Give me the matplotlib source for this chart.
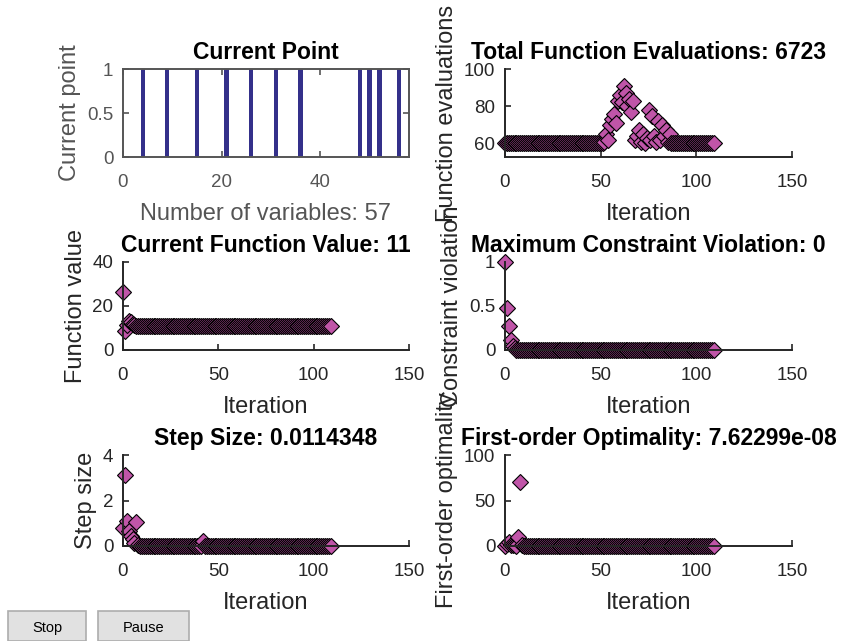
import numpy as np
import matplotlib
matplotlib.use("Agg")
from matplotlib import pyplot as plt
from matplotlib.patches import Rectangle

plt.rcParams['font.family'] = ['Liberation Sans', 'DejaVu Sans']

# current point: 57 variables, the ones at 1
n_vars = 57
on_vars = [4, 9, 15, 21, 26, 31, 36, 48, 50, 52, 56]

iters = np.arange(110)

func_count = [60, 60, 60, 60, 60, 60, 60, 60, 60, 60,
              60, 60, 60, 60, 60, 60, 60, 60, 60, 60,
              60, 60, 60, 60, 60, 60, 60, 60, 60, 60,
              60, 60, 60, 60, 60, 60, 60, 60, 60, 60,
              60, 60, 60, 60, 60, 60, 60, 60, 60, 60,
              60, 60, 61, 65, 62, 70, 73, 76, 71, 83,
              86, 82, 91, 87, 80, 84, 77, 83, 62, 64,
              67, 61, 65, 60, 63, 78, 62, 75, 64, 61,
              72, 62, 70, 64, 67, 61, 65, 60, 60, 60,
              60, 60, 60, 60, 60, 60, 60, 60, 60, 60,
              60, 60, 60, 60, 60, 60, 60, 60, 60, 60]

func_value = [26.4, 8.6, 11.5, 13.2, 12.8, 12.0, 11.4, 11.1, 10.9, 10.9,
              10.9, 10.9, 10.9, 10.9, 10.9, 10.9, 10.9, 10.9, 10.9, 10.9,
              10.9, 10.9, 10.9, 10.9, 10.9, 10.9, 10.9, 10.9, 10.9, 10.9,
              10.9, 10.9, 10.9, 10.9, 10.9, 10.9, 10.9, 10.9, 10.9, 10.9,
              10.9, 10.9, 10.9, 10.9, 10.9, 10.9, 10.9, 10.9, 10.9, 10.9,
              10.9, 10.9, 10.9, 10.9, 10.9, 10.9, 10.9, 10.9, 10.9, 10.9,
              10.9, 10.9, 10.9, 10.9, 10.9, 10.9, 10.9, 10.9, 10.9, 10.9,
              10.9, 10.9, 10.9, 10.9, 10.9, 10.9, 10.9, 10.9, 10.9, 10.9,
              10.9, 10.9, 10.9, 10.9, 10.9, 10.9, 10.9, 10.9, 10.9, 10.9,
              10.9, 10.9, 10.9, 10.9, 10.9, 10.9, 10.9, 10.9, 10.9, 10.9,
              10.9, 10.9, 10.9, 10.9, 10.9, 10.9, 10.9, 10.9, 10.9, 11.0]

constr_viol = [1.0, 0.48, 0.27, 0.11, 0.05, 0.02, 0, 0, 0, 0,
               0, 0, 0, 0, 0, 0, 0, 0, 0, 0,
               0, 0, 0, 0, 0, 0, 0, 0, 0, 0,
               0, 0, 0, 0, 0, 0, 0, 0, 0, 0,
               0, 0, 0, 0, 0, 0, 0, 0, 0, 0,
               0, 0, 0, 0, 0, 0, 0, 0, 0, 0,
               0, 0, 0, 0, 0, 0, 0, 0, 0, 0,
               0, 0, 0, 0, 0, 0, 0, 0, 0, 0,
               0, 0, 0, 0, 0, 0, 0, 0, 0, 0,
               0, 0, 0, 0, 0, 0, 0, 0, 0, 0,
               0, 0, 0, 0, 0, 0, 0, 0, 0, 0]

step_size = [0.8, 3.1, 1.1, 0.65, 0.45, 0.3, 0.12, 1.05, 0.05, 0.02,
             0.02, 0.02, 0.02, 0.02, 0.02, 0.02, 0.02, 0.02, 0.02, 0.02,
             0.02, 0.02, 0.02, 0.02, 0.02, 0.02, 0.02, 0.02, 0.02, 0.02,
             0.02, 0.02, 0.02, 0.02, 0.02, 0.02, 0.02, 0.02, 0.02, 0.02,
             0.02, 0.02, 0.2, 0.02, 0.02, 0.02, 0.02, 0.02, 0.02, 0.02,
             0.02, 0.02, 0.02, 0.02, 0.02, 0.02, 0.02, 0.02, 0.02, 0.02,
             0.02, 0.02, 0.02, 0.02, 0.02, 0.02, 0.02, 0.02, 0.02, 0.02,
             0.02, 0.02, 0.02, 0.02, 0.02, 0.02, 0.02, 0.02, 0.02, 0.02,
             0.02, 0.02, 0.02, 0.02, 0.02, 0.02, 0.02, 0.02, 0.02, 0.02,
             0.02, 0.02, 0.02, 0.02, 0.02, 0.02, 0.02, 0.02, 0.02, 0.02,
             0.02, 0.02, 0.02, 0.02, 0.02, 0.02, 0.02, 0.02, 0.02, 0.011]

optimality = [0.5, 2.0, 4.5, 1.0, 0.8, 1.5, 0.5, 9.5, 70.0, 1.0,
              0.5, 0.3, 0.2, 0.2, 0.2, 0.2, 0.2, 0.2, 0.2, 0.2,
              0.2, 0.2, 0.2, 0.2, 0.2, 0.2, 0.2, 0.2, 0.2, 0.2,
              0.2, 0.2, 0.2, 0.2, 0.2, 0.2, 0.2, 0.2, 0.2, 0.2,
              0.2, 0.2, 0.2, 0.2, 0.2, 0.2, 0.2, 0.2, 0.2, 0.2,
              0.2, 0.2, 0.2, 0.2, 0.2, 0.2, 0.2, 0.2, 0.2, 0.2,
              0.2, 0.2, 0.2, 0.2, 0.2, 0.2, 0.2, 0.2, 0.2, 0.2,
              0.2, 0.2, 0.2, 0.2, 0.2, 0.2, 0.2, 0.2, 0.2, 0.2,
              0.2, 0.2, 0.2, 0.2, 0.2, 0.2, 0.2, 0.2, 0.2, 0.2,
              0.2, 0.2, 0.2, 0.2, 0.2, 0.2, 0.2, 0.2, 0.2, 0.2,
              0.2, 0.2, 0.2, 0.2, 0.2, 0.2, 0.2, 0.2, 0.2, 0.0]

titles = ["Current Point", "Total Function Evaluations: 6723",
          "Current Function Value: 11", "Maximum Constraint Violation: 0",
          "Step Size: 0.0114348", "First-order Optimality: 7.62299e-08"]

W, H = 841, 641
fig = plt.figure(figsize=(W / 100, H / 100), dpi=100)

def ax_at(x0, y_top, x1, y_bot):
    return fig.add_axes([x0 / W, 1 - y_bot / H, (x1 - x0) / W, (y_bot - y_top) / H])

dark = '#262626'
grey = '#555555'
mface = '#c055a8'
tick_fs = 13.5
lab_fs = 17
title_fs = 16.5

def style(ax, color, box=False):
    for s in ['left', 'bottom', 'top', 'right']:
        ax.spines[s].set_color(color)
        ax.spines[s].set_linewidth(1.4)
        if not box and s in ('top', 'right'):
            ax.spines[s].set_visible(False)
    ax.tick_params(direction='in', length=4, width=1.2, colors=color,
                   labelsize=tick_fs, labelcolor=color,
                   top=box, right=box)
    ax.tick_params(axis='x', pad=12)
    ax.tick_params(axis='y', pad=7)

def iter_plot(ax, y, ylim, yticks, ylabel, title):
    ax.plot(iters, y, linestyle='none', marker='D', markersize=7.8,
            markerfacecolor=mface, markeredgecolor='black', markeredgewidth=0.8,
            clip_on=False)
    ax.set_xlim(0, 150)
    ax.set_xticks([0, 50, 100, 150])
    ax.set_ylim(*ylim)
    ax.set_yticks(yticks)
    ax.set_yticklabels([f"{t:g}" for t in yticks])
    style(ax, dark)
    ax.set_xlabel("Iteration", fontsize=lab_fs, color=dark, labelpad=9)
    ax.set_ylabel(ylabel, fontsize=lab_fs, color=dark, labelpad=4)
    ax.set_title(title, fontsize=title_fs, fontweight='bold', pad=7)

# current point
ax1 = ax_at(123, 69, 409, 157)
ax1.bar(on_vars, [1] * len(on_vars), width=0.85, color='#34308a')
ax1.set_xlim(0, 58)
ax1.set_xticks([0, 20, 40])
ax1.set_ylim(0, 1)
ax1.set_yticks([0, 0.5, 1])
ax1.set_yticklabels(['0', '0.5', '1'])
style(ax1, grey, box=True)
ax1.set_xlabel(f"Number of variables: {n_vars}", fontsize=lab_fs, color=grey, labelpad=9)
ax1.set_ylabel("Current point", fontsize=lab_fs, color=grey, labelpad=4)
ax1.set_title(titles[0], fontsize=title_fs, fontweight='bold', pad=7)

ax2 = ax_at(505, 69, 792, 157)
iter_plot(ax2, func_count, (52.7, 100), [60, 80, 100], "Function evaluations", titles[1])

ax3 = ax_at(123, 262, 409, 350)
iter_plot(ax3, func_value, (0, 40), [0, 20, 40], "Function value", titles[2])

ax4 = ax_at(505, 262, 792, 350)
iter_plot(ax4, constr_viol, (0, 1), [0, 0.5, 1], "Constraint violation", titles[3])

ax5 = ax_at(123, 455, 409, 546)
iter_plot(ax5, step_size, (0, 4), [0, 2, 4], "Step size", titles[4])

ax6 = ax_at(505, 455, 792, 546)
iter_plot(ax6, optimality, (0, 100), [0, 50, 100], "First-order optimality", titles[5])

# Stop / Pause buttons
for label, x0, x1 in [("Stop", 8, 86), ("Pause", 98, 189)]:
    fig.add_artist(Rectangle((x0 / W, 0), (x1 - x0) / W, 30 / H,
                             transform=fig.transFigure, facecolor='#e1e1e1',
                             edgecolor='#adadad', linewidth=1.2))
    fig.text((x0 + x1) / 2 / W, 1 - 628 / H, label, ha='center', va='center',
             fontsize=10.5, color='black')

fig.savefig("out.png", dpi=100)
